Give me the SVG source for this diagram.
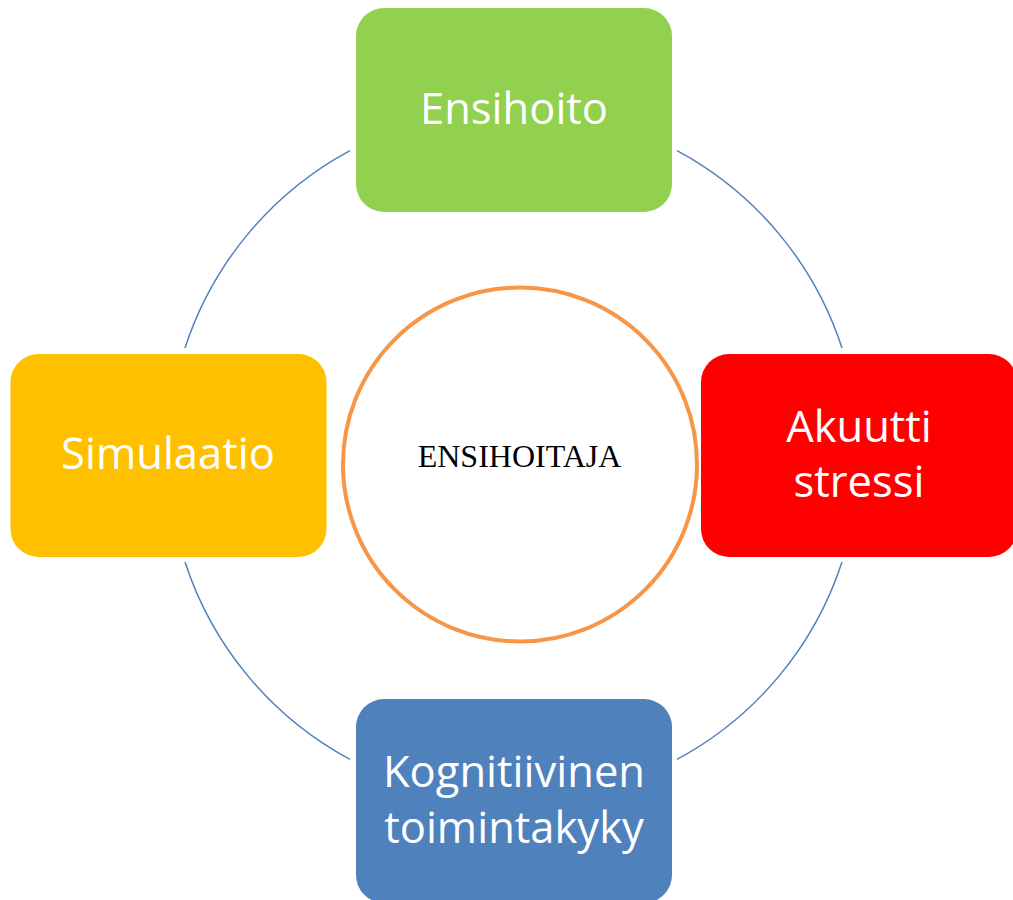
<svg xmlns="http://www.w3.org/2000/svg" width="1013" height="900" viewBox="0 0 1013 900">
<style>
.arc{fill:none;stroke:#4F81BD;stroke-width:1.5}
.box{stroke:none}
.lbl{font-family:"Open Sans","Liberation Sans",sans-serif;font-size:43.5px;fill:#FFFFFF;text-anchor:middle}
.ctr{font-family:"Liberation Serif","Times New Roman",serif;font-size:32px;fill:#000000;text-anchor:middle}
</style>
<rect x="0" y="0" width="1013" height="900" fill="#FFFFFF"/>
<g id="connectors">
<path class="arc" d="M677,150.6 A345.5,345.5 0 0 1 842,348"/>
<path class="arc" d="M842,562 A345.5,345.5 0 0 1 677,759.4"/>
<path class="arc" d="M350,759.4 A345.5,345.5 0 0 1 185,562"/>
<path class="arc" d="M185,348 A345.5,345.5 0 0 1 350,150.6"/>
</g>
<g id="center">
<circle cx="520" cy="464.5" r="177" fill="#FFFFFF" stroke="#F79646" stroke-width="4"/>
<text class="ctr" x="519.5" y="466.5">ENSIHOITAJA</text>
</g>
<g id="ensihoito">
<rect class="box" x="356" y="8" width="316" height="204" rx="28" fill="#92D050"/>
<text class="lbl" x="514" y="124">Ensihoito</text>
</g>
<g id="simulaatio">
<rect class="box" x="10.5" y="354" width="316" height="203" rx="28" fill="#FFC000"/>
<text class="lbl" x="168" y="469">Simulaatio</text>
</g>
<g id="akuutti">
<rect class="box" x="701" y="354" width="316" height="203" rx="28" fill="#FF0000"/>
<text class="lbl" x="859" y="441.5">Akuutti</text>
<text class="lbl" x="859" y="496.5">stressi</text>
</g>
<g id="kognitiivinen">
<rect class="box" x="356" y="699" width="316" height="204" rx="28" fill="#4F81BD"/>
<text class="lbl" x="514" y="786.5">Kognitiivinen</text>
<text class="lbl" x="514" y="842.5">toimintakyky</text>
</g>
</svg>
